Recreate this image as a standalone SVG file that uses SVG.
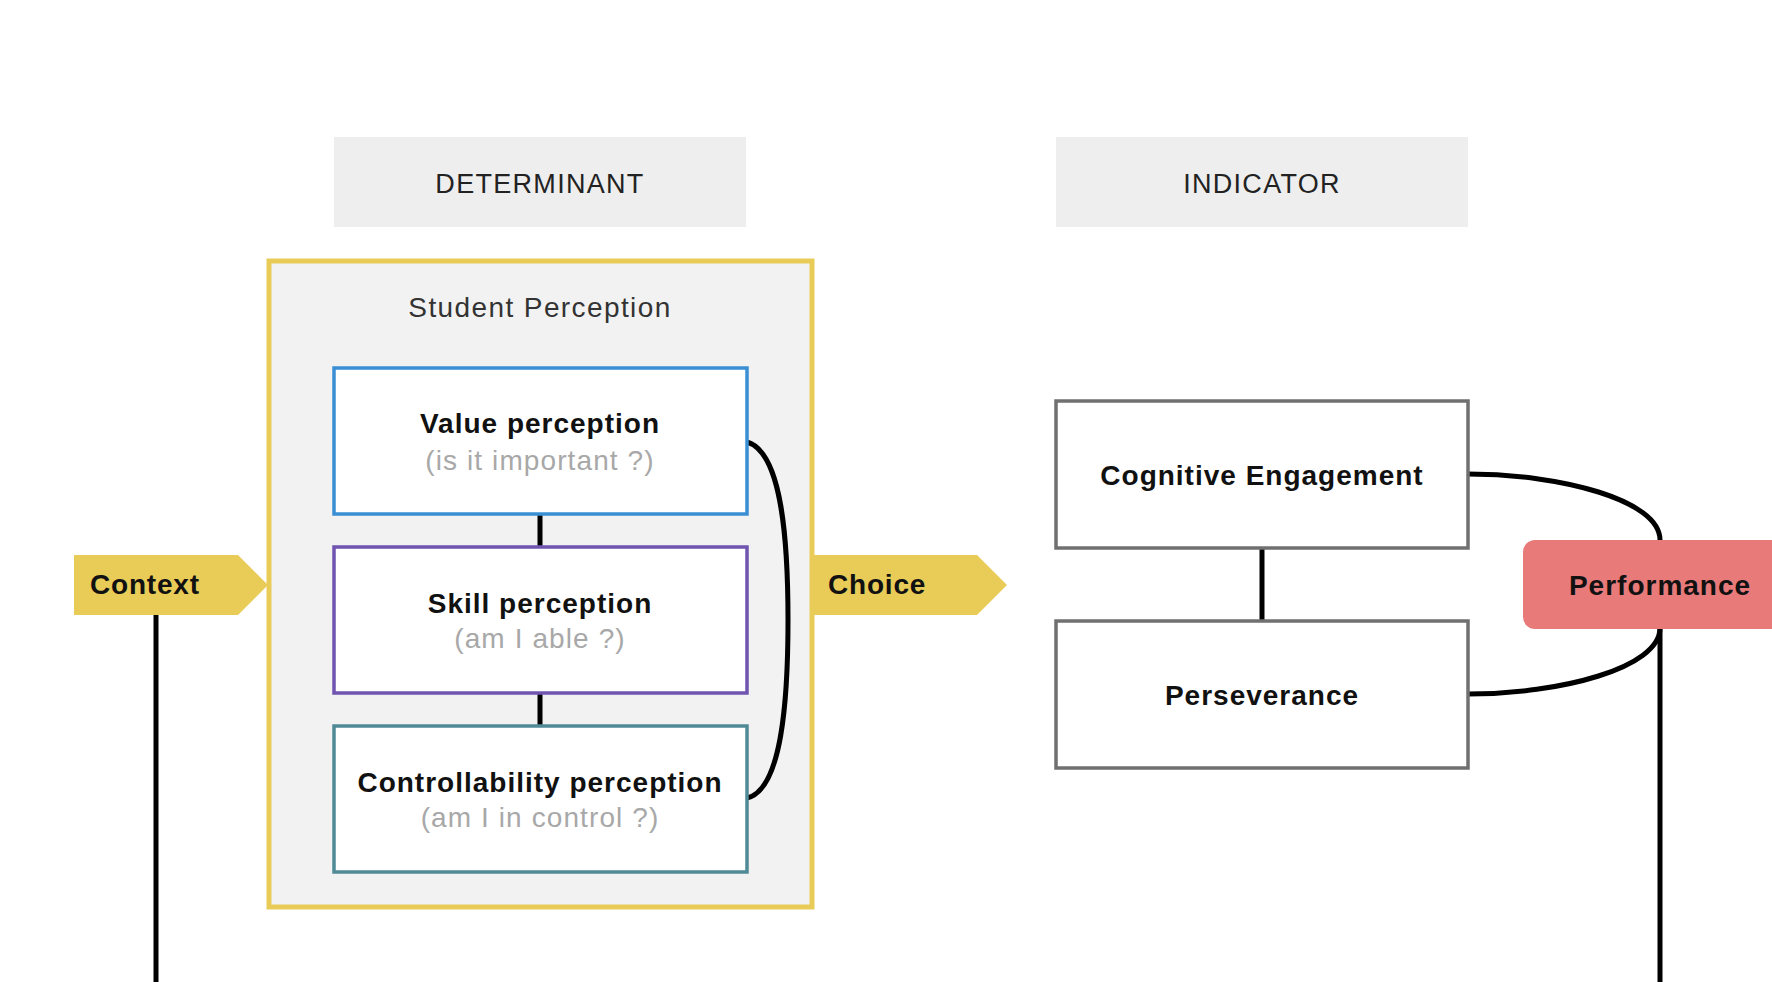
<svg xmlns="http://www.w3.org/2000/svg" width="1772" height="982" viewBox="0 0 1772 982">
<style>
text{font-family:"Liberation Sans",Arial,sans-serif;}
.hdr{fill:#eeeeee;}
.hdrt{font-size:27px;fill:#222;text-anchor:middle;letter-spacing:1.3px;}
.title{font-size:28px;fill:#333;text-anchor:middle;letter-spacing:1.4px;}
.box{fill:#ffffff;stroke-width:3.5;}
.main{font-size:28px;font-weight:bold;fill:#111;text-anchor:middle;letter-spacing:1px;}
.sub{font-size:28px;fill:#a8a8a8;text-anchor:middle;letter-spacing:1.1px;}
.tag{fill:#e9cc58;}
.tagt{font-size:28px;font-weight:bold;fill:#111;letter-spacing:0.8px;}
.conn{fill:none;stroke:#000;stroke-width:5;}
</style>
<rect width="1772" height="982" fill="#ffffff"/>
<g id="header-determinant">
<rect class="hdr" x="334" y="137" width="412" height="90"/>
<text class="hdrt" x="540" y="193">DETERMINANT</text>
</g>
<g id="header-indicator">
<rect class="hdr" x="1056" y="137" width="412" height="90"/>
<text class="hdrt" x="1262" y="193">INDICATOR</text>
</g>
<g id="student-perception">
<rect x="269" y="261" width="543" height="646" fill="#f2f2f2" stroke="#e9cc58" stroke-width="5"/>
<text class="title" x="540" y="317">Student Perception</text>
</g>
<g id="connectors">
<line class="conn" x1="540" y1="514" x2="540" y2="547"/>
<line class="conn" x1="540" y1="693" x2="540" y2="727"/>
<path class="conn" d="M747 442 C 782 452, 788 540, 788 620 C 788 700, 782 790, 747 798"/>
<line class="conn" x1="1262" y1="548" x2="1262" y2="621"/>
<path class="conn" d="M1468 474 C 1560 474, 1660 500, 1660 540"/>
<path class="conn" d="M1468 694 C 1560 694, 1660 668, 1660 628"/>
<line class="conn" x1="1660" y1="628" x2="1660" y2="982"/>
<line class="conn" x1="156" y1="614" x2="156" y2="982"/>
</g>
<g id="value-perception">
<rect class="box" x="334" y="368" width="413" height="146" stroke="#3a8fd4"/>
<text class="main" x="540" y="433">Value perception</text>
<text class="sub" x="540" y="470">(is it important ?)</text>
</g>
<g id="skill-perception">
<rect class="box" x="334" y="547" width="413" height="146" stroke="#6f55b0"/>
<text class="main" x="540" y="613">Skill perception</text>
<text class="sub" x="540" y="648">(am I able ?)</text>
</g>
<g id="controllability-perception">
<rect class="box" x="334" y="726" width="413" height="146" stroke="#4f8a96"/>
<text class="main" x="540" y="792">Controllability perception</text>
<text class="sub" x="540" y="827">(am I in control ?)</text>
</g>
<g id="context">
<polygon class="tag" points="74,555 238,555 268,585 238,615 74,615"/>
<text class="tagt" x="90" y="594">Context</text>
</g>
<g id="choice">
<polygon class="tag" points="814,555 977,555 1007,585 977,615 814,615"/>
<text class="tagt" x="828" y="594">Choice</text>
</g>
<g id="cognitive-engagement">
<rect class="box" x="1056" y="401" width="412" height="147" stroke="#707070"/>
<text class="main" x="1262" y="485">Cognitive Engagement</text>
</g>
<g id="perseverance">
<rect class="box" x="1056" y="621" width="412" height="147" stroke="#707070"/>
<text class="main" x="1262" y="705">Perseverance</text>
</g>
<g id="performance">
<rect x="1523" y="540" width="290" height="89" rx="12" fill="#e87a7a"/>
<text class="main" x="1660" y="595">Performance</text>
</g>
</svg>
